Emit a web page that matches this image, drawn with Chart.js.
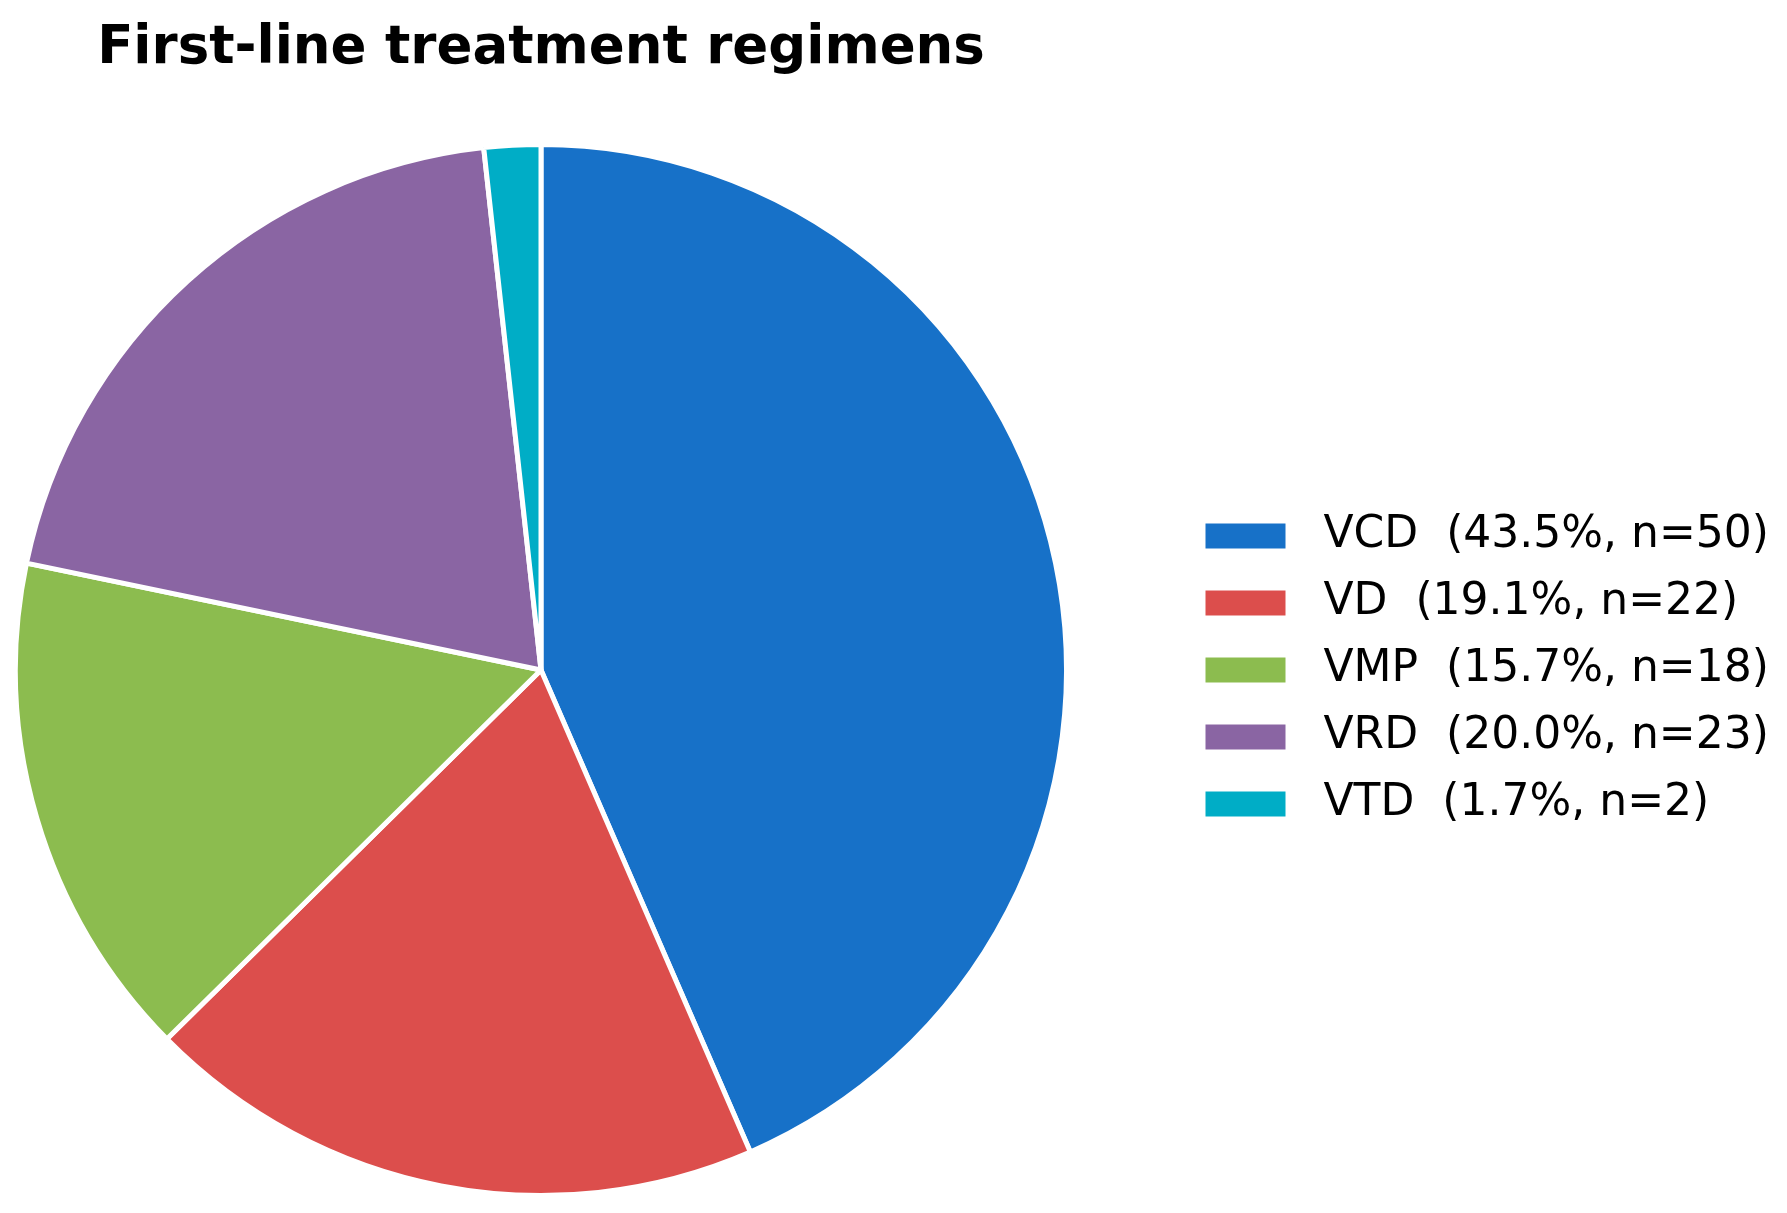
<!DOCTYPE html>
<html>
<head>
<meta charset="utf-8">
<title>First-line treatment regimens</title>
<script src="https://cdn.jsdelivr.net/npm/chart.js@4/dist/chart.umd.min.js"></script>
<style>
    html, body { margin: 0; padding: 0; background: #ffffff; }
    #wrap { width: 1787px; height: 1213px; position: relative; }
</style>
</head>
<body>
<div id="wrap"><canvas id="regimenChart"></canvas></div>
<script>
// Datos del gráfico
const chartTitle = 'First-line treatment regimens';
const regimens = ['VCD', 'VD', 'VMP', 'VRD', 'VTD'];
const patients = [50, 22, 18, 23, 2];
const percents = ['43.5%', '19.1%', '15.7%', '20.0%', '1.7%'];
const sliceColors = ['#1771C8', '#DC4E4C', '#8CBC4F', '#8A65A3', '#00ADC6'];

// Etiquetas de la leyenda: "VCD  (43.5%, n=50)"
const legendTexts = regimens.map((r, i) => `${r}  (${percents[i]}, n=${patients[i]})`);

// Mantener el pastel cuadrado, dejando hueco antes de la leyenda
const squarePie = {
    id: 'squarePie',
    afterLayout(chart) {
        const area = chart.chartArea;
        area.right = area.left + (area.bottom - area.top);
        area.width = area.right - area.left;
    }
};

// Título centrado sobre el pastel
const pieTitle = {
    id: 'pieTitle',
    afterDraw(chart) {
        const area = chart.chartArea;
        const ctx = chart.ctx;
        ctx.save();
        ctx.font = 'bold 53px "DejaVu Sans"';
        ctx.fillStyle = '#000000';
        ctx.textAlign = 'center';
        ctx.textBaseline = 'alphabetic';
        ctx.fillText(chartTitle, (area.left + area.right) / 2, 63);
        ctx.restore();
    }
};

const ctx = document.getElementById('regimenChart').getContext('2d');
const regimenChart = new Chart(ctx, {
    type: 'pie',
    data: {
        labels: legendTexts,
        datasets: [{
            data: patients,
            backgroundColor: sliceColors,
            borderColor: '#ffffff',
            borderWidth: 5
        }]
    },
    options: {
        responsive: true,
        maintainAspectRatio: false,
        animation: false,
        layout: {
            padding: { top: 142, bottom: 15, left: 13, right: 8 }
        },
        plugins: {
            legend: {
                position: 'right',
                align: 'center',
                labels: {
                    font: { family: '"DejaVu Sans"', size: 44 },
                    color: '#000000',
                    // caja de 112x57 con borde blanco de 32 -> se ve 80x25 y deja hueco al texto
                    boxWidth: 112,
                    boxHeight: 57,
                    padding: 10,
                    generateLabels(chart) {
                        return chart.data.labels.map((text, i) => ({
                            text: text,
                            fillStyle: sliceColors[i],
                            strokeStyle: '#ffffff',
                            lineWidth: 32,
                            fontColor: '#000000',
                            hidden: false,
                            index: i
                        }));
                    }
                }
            },
            tooltip: { enabled: false },
            title: { display: false }
        }
    },
    plugins: [squarePie, pieTitle]
});
</script>
</body>
</html>
